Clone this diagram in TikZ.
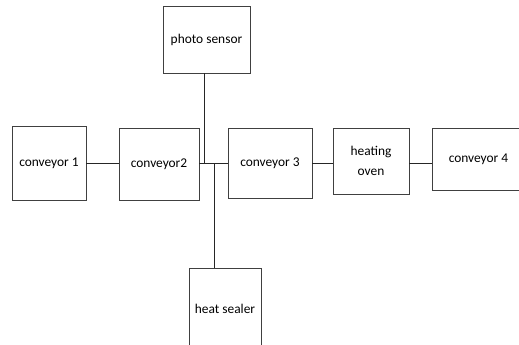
\documentclass[tikz,border=0pt]{standalone}
\usepackage{fontspec}
\setmainfont{Carlito}
\usetikzlibrary{positioning}

\tikzset{
	unit/.style={draw=black!75,line width=0.9pt,inner sep=0pt,align=center,
		font=\fontsize{13.4}{20}\selectfont},
	link/.style={draw=black!85,line width=0.9pt}
}

\begin{document}
\begin{tikzpicture}[x=1pt,y=-1pt]
		\useasboundingbox (0,0) rectangle (519,345);
		\clip (0,0) rectangle (519,345);
		\node[unit,minimum width=74pt,minimum height=74pt] (c1) at (49,163) {conveyor 1};
		\node[unit,minimum width=80pt,minimum height=72pt] (c2) at (159,164) {conveyor2};
		\node[unit,minimum width=87pt,minimum height=67pt] (ps) at (206.5,39.5) {photo sensor};
		\node[unit,minimum width=84pt,minimum height=70pt] (c3) at (270,163) {conveyor 3};
		\node[unit,minimum width=76pt,minimum height=66pt] (oven) at (371,161) {heating\\oven};
		\node[unit,minimum width=93pt,minimum height=62pt] (c4) at (478.5,159) {conveyor 4};
		\node[unit,minimum width=72pt,minimum height=82pt] (sealer) at (225,309) {heat sealer};
		% junctions on the line between conveyor2 and conveyor 3
		\coordinate (j1) at (204,163);
		\coordinate (j2) at (214,163);
		\draw[link] (c1.east) -- (c1.east -| c2.west);
		\draw[link] (c2.east |- j1) -- (j1 -| c3.west);
		\draw[link] (ps.south -| j1) -- (j1);
		\draw[link] (j2) -- (j2 |- sealer.north);
		\draw[link] (c3.east) -- (c3.east -| oven.west);
		\draw[link] (oven.east |- j1) -- (j1 -| c4.west);
\end{tikzpicture}
\end{document}
